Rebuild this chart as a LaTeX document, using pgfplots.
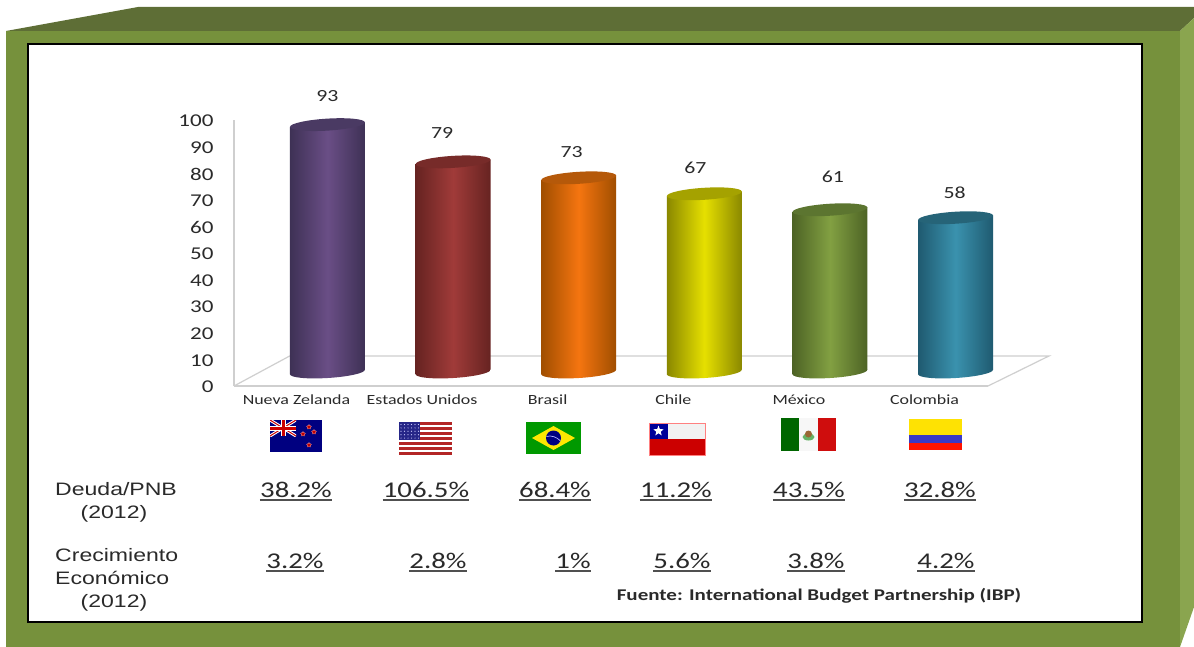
\documentclass[border=0pt]{standalone}
\usepackage{pgfplots}
\pgfplotsset{compat=1.18}
\usepackage{fontspec}
\usetikzlibrary{shapes.geometric}
\setmainfont[FakeStretch=1.28]{Carlito}
\newfontfamily\labelfont[FakeStretch=1.28]{Liberation Sans}

\definecolor{frameFront}{HTML}{76913C}
\definecolor{frameTop}{HTML}{5E6E36}
\definecolor{frameSide}{HTML}{8AA54F}
\definecolor{floorLine}{HTML}{CFCFCF}
\definecolor{ink}{HTML}{2A2A2A}
\definecolor{rule}{HTML}{505050}

\definecolor{purpleEdge}{HTML}{3E3155}\definecolor{purpleMid}{HTML}{6A4E86}\definecolor{purpleTop}{HTML}{4A3A63}
\definecolor{redEdge}{HTML}{662321}\definecolor{redMid}{HTML}{A03B39}\definecolor{redTop}{HTML}{772B29}
\definecolor{orangeEdge}{HTML}{A04E00}\definecolor{orangeMid}{HTML}{F57510}\definecolor{orangeTop}{HTML}{B5590A}
\definecolor{yellowEdge}{HTML}{8A8800}\definecolor{yellowMid}{HTML}{E6E000}\definecolor{yellowTop}{HTML}{A5A200}
\definecolor{greenEdge}{HTML}{4D6325}\definecolor{greenMid}{HTML}{82A042}\definecolor{greenTop}{HTML}{5C7530}
\definecolor{blueEdge}{HTML}{1F5A70}\definecolor{blueMid}{HTML}{3A92AE}\definecolor{blueTop}{HTML}{266478}

% One cylinder: position, value, colour stem, label offsets.
% The body is slanted about its own centre so that its ends follow the tilted ellipses.
\newcommand{\cylinder}[5]{%
  \addplot[draw=none, mark=none, nodes near coords={}, nodes near coords align={center},
    every node near coord/.append style={ellipse, inner sep=0pt, minimum width=75pt, minimum height=12pt,
      rotate=3.5, left color=#3Edge, right color=#3Edge, middle color=#3Mid}]
    coordinates {(#1,0)};
  \addplot[ybar, bar width=75pt, bar shift=0pt, draw=none,
    yslant=0.061, yshift={-0.061*(93.5+125.6*#1)*1pt},
    left color=#3Edge, right color=#3Edge, middle color=#3Mid]
    coordinates {(#1,#2)};
  \addplot[draw=none, mark=none, nodes near coords={}, nodes near coords align={center},
    every node near coord/.append style={ellipse, inner sep=0pt, minimum width=75pt, minimum height=12pt,
      rotate=3.5, fill=#3Top}]
    coordinates {(#1,#2)};
  \addplot[draw=none, mark=none, nodes near coords, nodes near coords align={center},
    every node near coord/.append style={font=\fontsize{17}{17}\selectfont, text=ink, xshift=#4pt, yshift=#5pt}]
    coordinates {(#1,#2)};
}
% Underlined percentage cell
\newcommand{\cell}[3]{%
  \node[font=\fontsize{22.5}{22}\selectfont, text=ink, anchor=base, inner sep=0pt] (c) at (#1,#2) {#3};
  \draw[rule, line width=2.2pt] ([yshift=-3pt]c.base west) -- ([yshift=-3pt]c.base east);
}

\begin{document}
\begin{tikzpicture}[x=1pt,y=-1pt]
\useasboundingbox (0,0) rectangle (1194,647);

% Raised frame
\fill[frameTop] (6,31) -- (138,7) -- (1194,7) -- (1194,18) -- (1180,31) -- cycle;
\fill[frameSide] (1180,31) -- (1194,18) -- (1194,607) -- (1180,647) -- cycle;
\fill[frameFront] (6,31) rectangle (1180,647);
\fill[white] (28,44) rectangle (1142,622);
\draw[black, line width=2pt] (28,44) rectangle (1142,622);

% Value scale, floor and category names
\begin{axis}[
  at={(234pt,-386pt)}, anchor=south west, scale only axis,
  width=754pt, height=266pt,
  xmin=-0.744, xmax=5.258, ymin=0, ymax=100,
  clip=false,
  axis x line*=bottom, axis y line*=left,
  axis line style={-, color=floorLine, line width=1.2pt},
  major tick length=0pt,
  xtick={0,1,2,3,4,5},
  xticklabels={Nueva Zelanda,Estados Unidos,Brasil,Chile,México,Colombia},
  xticklabel style={font=\fontsize{14}{14}\selectfont, text=ink, xshift=-31pt, anchor=base, yshift=-18pt},
  ytick={0,10,...,100},
  yticklabel style={font=\fontsize{18}{18}\selectfont, text=ink, anchor=east, xshift=-17pt, yshift=-1pt},
  /pgf/number format/assume math mode=true,
]
\addplot[floorLine, line width=1.2pt, mark=none] coordinates {(-0.744,0) (-0.30,11.3) (5.744,11.3) (5.258,0)};
\end{axis}

% Cylinders stand on a baseline set back from the front edge of the floor
\begin{axis}[
  at={(234pt,-372pt)}, anchor=south west, scale only axis,
  width=754pt, height=266pt,
  xmin=-0.744, xmax=5.258, ymin=0, ymax=100,
  clip=false, hide axis,
  /pgf/number format/assume math mode=true,
]
\cylinder{0}{93}{purple}{0}{29}
\cylinder{1}{79}{red}{-11}{29}
\cylinder{2}{73}{orange}{-7}{26}
\cylinder{3}{67}{yellow}{-9}{26}
\cylinder{4}{61}{green}{3}{33}
\cylinder{5}{58}{blue}{-1}{25}
\end{axis}

% New Zealand
\fill[blue!50!black] (270,420) rectangle (322,452);
\begin{scope}
  \clip (270,420) rectangle (296,436);
  \draw[white, line width=3pt] (270,420) -- (296,436) (296,420) -- (270,436);
  \draw[red!80!black, line width=1pt] (270,420) -- (296,436) (296,420) -- (270,436);
  \draw[white, line width=5pt] (283,420) -- (283,436) (270,428) -- (296,428);
  \draw[red!80!black, line width=3pt] (283,420) -- (283,436) (270,428) -- (296,428);
\end{scope}
\foreach \sx/\sy in {309/427,303/434,314/432,309/445}
  \node[star, star points=5, fill=red!75!black, draw=white!70!red, line width=.3pt, minimum size=5pt, inner sep=0pt] at (\sx,\sy) {};

% United States
\fill[white] (399,422) rectangle (452,455);
\foreach \k in {0,2,...,12}
  \fill[red!65!black!85] (399,{422+\k*33/13}) rectangle (452,{422+(\k+1)*33/13});
\fill[blue!45!black!85] (399,422) rectangle (420,440);
\foreach \i in {0,...,5} \foreach \j in {0,...,4}
  \fill[white!80!blue] ({401+\i*3.5},{424.5+\j*3.4}) circle (.6);

% Brazil
\fill[green!60!black] (526,422) rectangle (581,454);
\fill[yellow!90!orange] (532,438) -- (553.5,426) -- (575,438) -- (553.5,450) -- cycle;
\fill[blue!50!black] (553.5,438) circle (7.5);
\draw[white!70!blue, line width=.7pt] (546.5,436.5) .. controls (551,435) and (557,437) .. (560.5,441);

% Chile
\fill[white!95!black] (649,423) rectangle (705,439);
\fill[red!80!black] (649,439) rectangle (705,455);
\fill[blue!60!black] (649,423) rectangle (668,439);
\node[star, star points=5, star point ratio=2.4, fill=white, minimum size=11pt, inner sep=0pt] at (658.5,431) {};
\draw[red!50!white, line width=.7pt] (649,423) rectangle (705,455);

% Mexico
\fill[green!40!black] (781,418) rectangle (799,451);
\fill[white!97!black] (799,418) rectangle (818,451);
\fill[red!80!black!95] (818,418) rectangle (836,451);
\fill[green!50!black!60] (808.5,437) ellipse (6 and 3.5);
\fill[brown!80!black] (808.5,434) circle (3.5);

% Colombia
\fill[yellow!85!orange] (909,419) rectangle (962,435);
\fill[blue!55!gray] (909,435) rectangle (962,443);
\fill[red!85!orange] (909,443) rectangle (962,450);

% Table rows beneath the chart
\begin{scope}[every node/.style={text=ink, font=\labelfont\fontsize{18}{18}\selectfont}]
  \node[anchor=base west, inner sep=0pt] at (55,495) {Deuda/PNB};
  \node[anchor=base, inner sep=0pt] at (114,518) {(2012)};
  \node[anchor=base west, inner sep=0pt] at (55,561) {Crecimiento};
  \node[anchor=base west, inner sep=0pt] at (55,584) {Económico};
  \node[anchor=base, inner sep=0pt] at (114,607) {(2012)};
\end{scope}

\cell{296}{497}{38.2\%}
\cell{426}{497}{106.5\%}
\cell{555}{497}{68.4\%}
\cell{676}{497}{11.2\%}
\cell{809}{497}{43.5\%}
\cell{940}{497}{32.8\%}
\cell{295}{568}{3.2\%}
\cell{438}{568}{2.8\%}
\cell{573}{568}{1\%}
\cell{682}{568}{5.6\%}
\cell{816}{568}{3.8\%}
\cell{946}{568}{4.2\%}

\node[anchor=base, font=\bfseries\fontsize{16.4}{16}\selectfont, text=ink, inner sep=0pt] at (819,600)
  {Fuente: International Budget Partnership (IBP)};
\end{tikzpicture}
\end{document}
